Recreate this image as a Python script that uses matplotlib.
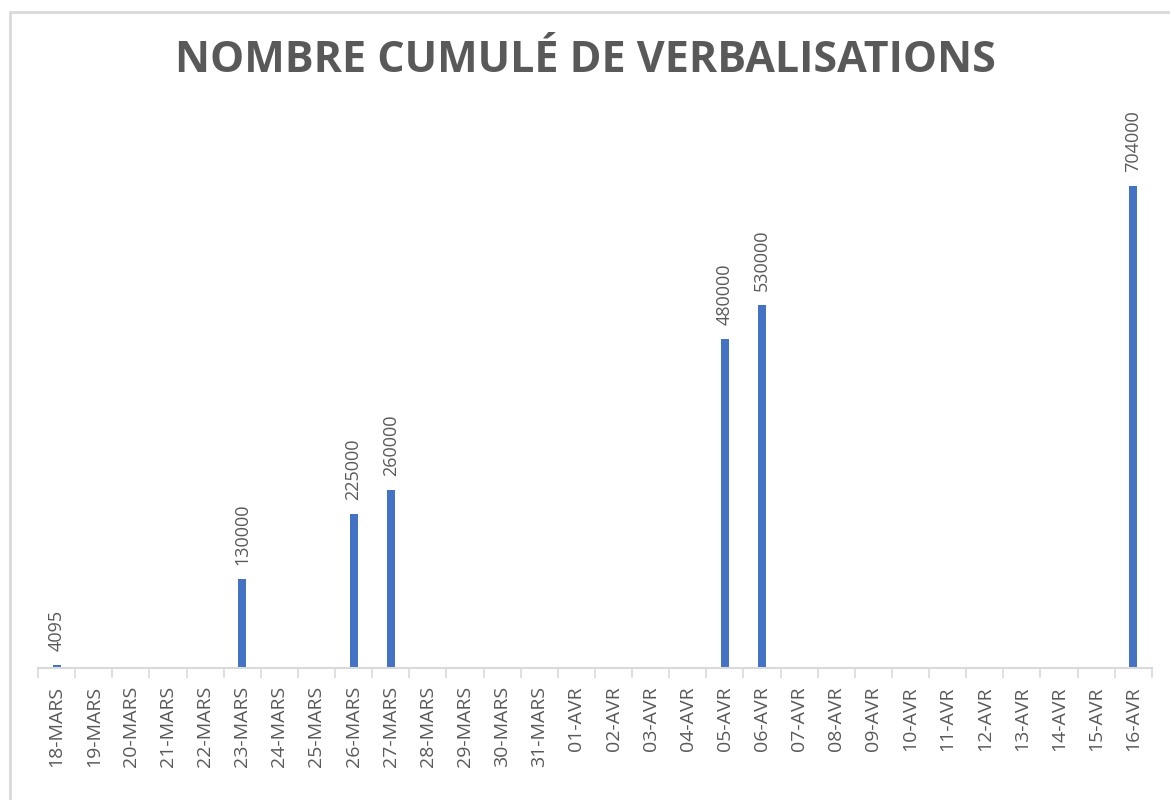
import numpy as np
import matplotlib
matplotlib.use("Agg")
import matplotlib.pyplot as plt
from matplotlib.patches import Rectangle

# dates (30 consecutive days) and cumulative fines
dates = ['18-MARS', '19-MARS', '20-MARS', '21-MARS', '22-MARS', '23-MARS',
         '24-MARS', '25-MARS', '26-MARS', '27-MARS', '28-MARS', '29-MARS',
         '30-MARS', '31-MARS', '01-AVR', '02-AVR', '03-AVR', '04-AVR',
         '05-AVR', '06-AVR', '07-AVR', '08-AVR', '09-AVR', '10-AVR',
         '11-AVR', '12-AVR', '13-AVR', '14-AVR', '15-AVR', '16-AVR']
verbalisations = [4095, 0, 0, 0, 0, 130000, 0, 0, 225000, 260000,
                  0, 0, 0, 0, 0, 0, 0, 0, 480000, 530000,
                  0, 0, 0, 0, 0, 0, 0, 0, 0, 704000]

title = 'NOMBRE CUMULÉ DE VERBALISATIONS'

bar_color = '#4472C4'
text_color = '#595959'
axis_color = '#D9D9D9'

plt.rcParams['font.family'] = ['Open Sans', 'DejaVu Sans']

fig = plt.figure(figsize=(11.7, 8), dpi=100)
ax = fig.add_axes([0.0325, 0.165, 0.952, 0.685])

x = np.arange(len(dates))
ax.bar(x, verbalisations, width=0.22, color=bar_color, zorder=2)

for xi, v in zip(x, verbalisations):
    if v > 0:
        ax.annotate(str(v), (xi, v), xytext=(0, 10), textcoords='offset points',
                    rotation=90, ha='center', va='bottom',
                    fontsize=13, color=text_color)

ax.set_xlim(-0.5, len(dates) - 0.5)
ax.set_ylim(0, 800000)

for side in ['top', 'right', 'left']:
    ax.spines[side].set_visible(False)
ax.spines['bottom'].set_color(axis_color)
ax.spines['bottom'].set_linewidth(1.5)

ax.set_yticks([])
ax.set_xticks(x)
ax.set_xticklabels(dates, rotation=90, fontsize=14, color=text_color)
ax.tick_params(axis='x', length=0, pad=13)
# category separators below the axis
ax.set_xticks(np.arange(-0.5, len(dates), 1), minor=True)
ax.tick_params(axis='x', which='minor', length=7, width=1.2, color=axis_color)

fig.text(0.5, 0.924, title, ha='center', va='center', fontsize=31,
         fontweight='bold', color=text_color)

# light chart-area frame
fig.patches.append(Rectangle((10 / 1170, -0.01), 1.2, 1 - 12 / 800 + 0.01,
                             transform=fig.transFigure, fill=False,
                             edgecolor='#D9D9D9', linewidth=2))

fig.savefig('out.png', dpi=100)
